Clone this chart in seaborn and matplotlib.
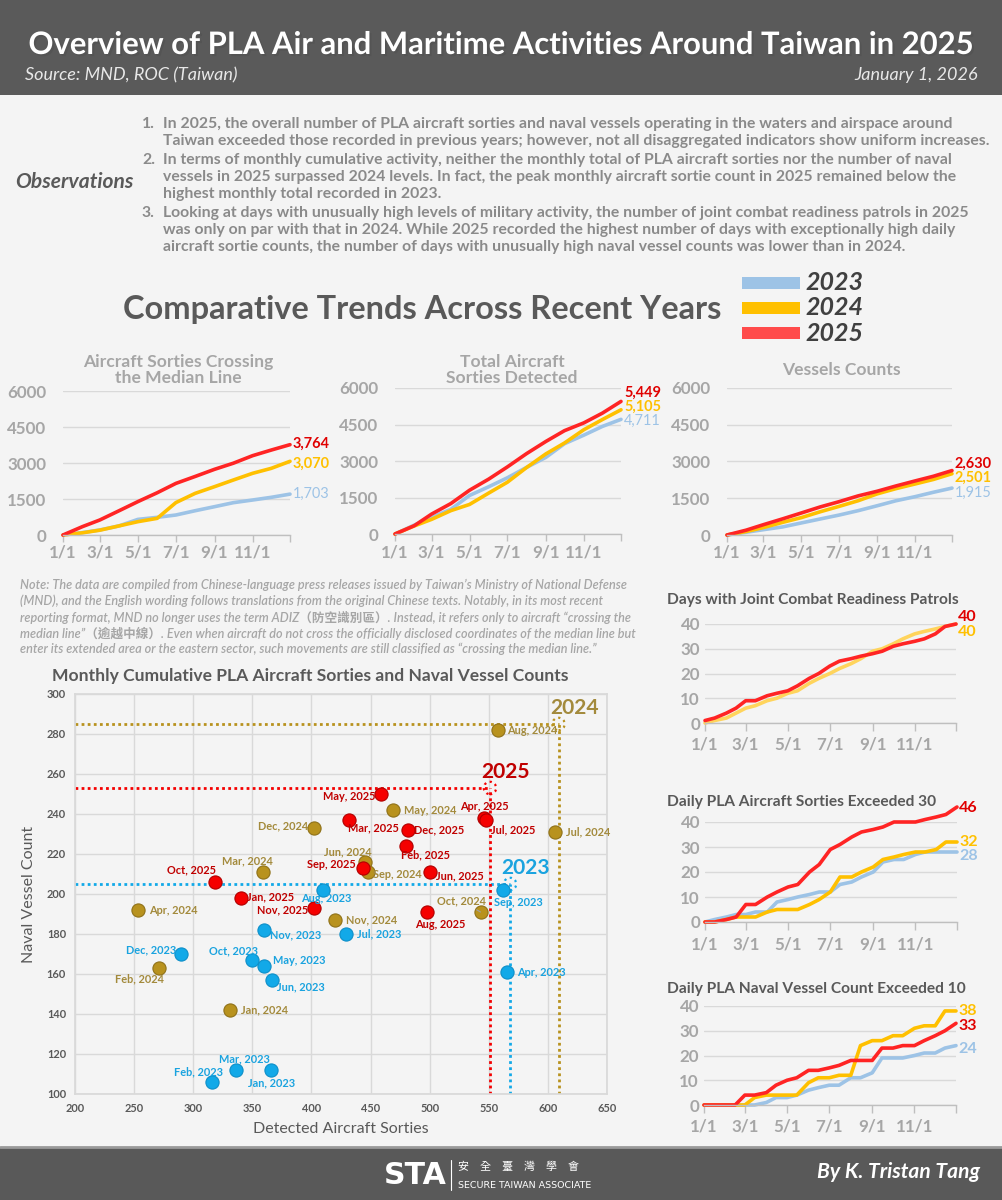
import numpy as np
import pandas as pd
import matplotlib
matplotlib.use('Agg')
import matplotlib.pyplot as plt
from matplotlib.patches import Rectangle
from matplotlib.lines import Line2D
import matplotlib.patheffects as pe
import seaborn as sns

sns.set_theme(style='white')
plt.rcParams['font.family'] = ['Lato', 'Noto Sans CJK TC', 'DejaVu Sans']

W, H = 1003, 1200
PT = 0.72  # points per pixel at 100 dpi

# ---------------- data ----------------
years = ['2023', '2024', '2025']
months = ['Jan', 'Feb', 'Mar', 'Apr', 'May', 'Jun',
          'Jul', 'Aug', 'Sep', 'Oct', 'Nov', 'Dec']
month_days = [0, 31, 59, 90, 120, 151, 181, 212, 243, 273, 304, 334, 364]
half_days = [0, 14, 31, 45, 59, 73, 90, 104, 120, 134, 151, 165, 181,
             195, 212, 226, 243, 257, 273, 287, 304, 318, 334, 348, 364]
tick_days = [0, 59, 120, 181, 243, 304, 364]
tick_labels = ['1/1', '3/1', '5/1', '7/1', '9/1', '11/1', '']

# cumulative sorties crossing the median line, read at each month start
median_2023 = [0, 100, 210, 380, 650, 736, 833, 1012, 1180, 1346, 1458, 1570, 1703]
median_2024 = [0, 90, 200, 380, 555, 694, 1350, 1736, 2014, 2290, 2570, 2778, 3070]
median_2025 = [0, 347, 625, 1012, 1390, 1760, 2150, 2440, 2737, 2990, 3305, 3540, 3764]

# monthly totals (scatter)
air_2023 = [366, 316, 336, 565, 360, 367, 429, 410, 562, 350, 360, 290]
vessel_2023 = [112, 106, 112, 161, 164, 157, 180, 202, 202, 167, 182, 170]
air_2024 = [331, 271, 359, 253, 469, 445, 606, 558, 448, 543, 420, 402]
vessel_2024 = [142, 163, 211, 192, 242, 216, 231, 282, 211, 191, 187, 233]
air_2025 = [340, 480, 432, 546, 459, 500, 548, 498, 444, 318, 402, 482]
vessel_2025 = [198, 224, 237, 238, 250, 211, 237, 191, 213, 206, 193, 232]

# cumulative day counts, read at the 1st and mid of each month
patrol_2024 = [0, 1, 2, 4, 6, 7, 9, 10, 12, 13, 16, 18, 20,
               22, 24, 26, 29, 30, 32, 34, 36, 37, 38, 39, 40]
patrol_2025 = [1, 2, 4, 6, 9, 9, 11, 12, 13, 15, 18, 20, 23,
               25, 26, 27, 28, 29, 31, 32, 33, 34, 36, 39, 40]
air30_2023 = [0, 1, 2, 3, 3, 4, 4, 8, 9, 10, 11, 12, 12,
              15, 16, 18, 20, 24, 25, 25, 27, 28, 28, 28, 28]
air30_2024 = [0, 0, 1, 2, 2, 2, 4, 5, 5, 5, 7, 9, 12,
              18, 18, 20, 22, 25, 26, 27, 28, 28, 29, 32, 32]
air30_2025 = [0, 0, 1, 2, 7, 7, 10, 12, 14, 15, 20, 23, 29,
              31, 34, 36, 37, 38, 40, 40, 40, 41, 42, 43, 46]
ves10_2023 = [0, 0, 0, 0, 0, 0, 1, 3, 3, 4, 6, 7, 8,
              8, 11, 11, 13, 19, 19, 19, 20, 21, 21, 23, 24]
ves10_2024 = [0, 0, 0, 0, 0, 3, 4, 4, 4, 4, 9, 11, 11,
              12, 12, 24, 26, 26, 28, 28, 31, 32, 32, 38, 38]
ves10_2025 = [0, 0, 0, 0, 4, 4, 5, 8, 10, 11, 14, 14, 15,
              16, 18, 18, 18, 23, 23, 24, 24, 26, 28, 30, 33]

# ---------------- styles ----------------
line_colors = {'2023': '#9DC3E6', '2024': '#FFC000', '2025': '#FF2424'}
label_colors = {'2023': '#9DC3E6', '2024': '#FFC000', '2025': '#E00000'}
dot_colors = {'2023': '#12A9E8', '2024': '#B8921E', '2025': '#F50000'}
dot_edges = {'2023': '#0E8FC8', '2024': '#8F7118', '2025': '#B00000'}
dot_text = {'2023': '#1AA3DF', '2024': '#A38A3C', '2025': '#C00000'}
GRID = '#D9D9D9'
GREY = '#A6A6A6'
DARK = '#595959'

fig = plt.figure(figsize=(W / 100, H / 100), dpi=100)
fig.patch.set_facecolor('#F4F4F4')


def fx(x):
    return x / W


def fy(y):
    return 1 - y / H


def rect_px(l, t, r, b):
    return [l / W, 1 - b / H, (r - l) / W, (b - t) / H]


def band(t, b, color):
    fig.add_artist(Rectangle((0, fy(b)), 1, (b - t) / H, transform=fig.transFigure,
                             facecolor=color, edgecolor='none', zorder=0))


# ---------------- header ----------------
band(0, 95, '#5A5A5A')
fig.text(fx(501), fy(45), 'Overview of PLA Air and Maritime Activities Around Taiwan in 2025',
         color='white', fontsize=31 * PT, fontweight='bold', ha='center', va='center',
         path_effects=[pe.SimplePatchShadow(offset=(1.5, -1.5), alpha=0.45), pe.Normal()])
fig.text(fx(25), fy(75), 'Source: MND, ROC (Taiwan)', color='#E8E8E8', style='italic',
         fontsize=18 * PT, va='center')
fig.text(fx(978), fy(75), 'January 1, 2026', color='#E8E8E8', style='italic',
         fontsize=18 * PT, va='center', ha='right')

# ---------------- observations ----------------
fig.text(fx(15), fy(182), 'Observations', color=DARK, fontsize=21 * PT,
         fontweight='bold', style='italic', va='center')
observations = [
    ['In 2025, the overall number of PLA aircraft sorties and naval vessels operating in the waters and airspace around',
     'Taiwan exceeded those recorded in previous years; however, not all disaggregated indicators show uniform increases.'],
    ['In terms of monthly cumulative activity, neither the monthly total of PLA aircraft sorties nor the number of naval',
     'vessels in 2025 surpassed 2024 levels. In fact, the peak monthly aircraft sortie count in 2025 remained below the',
     'highest monthly total recorded in 2023.'],
    ['Looking at days with unusually high levels of military activity, the number of joint combat readiness patrols in 2025',
     'was only on par with that in 2024. While 2025 recorded the highest number of days with exceptionally high daily',
     'aircraft sortie counts, the number of days with unusually high naval vessel counts was lower than in 2024.'],
]
y = 124
for i, para in enumerate(observations):
    fig.text(fx(142), fy(y), f'{i + 1}.', color='#8A8A8A', fontsize=15.8 * PT,
             fontweight='bold', va='center')
    for line in para:
        fig.text(fx(163), fy(y), line, color='#8A8A8A', fontsize=15.8 * PT,
                 fontweight='bold', va='center')
        y += 17
    y += 2

# ---------------- section title + legend ----------------
fig.text(fx(422), fy(310), 'Comparative Trends Across Recent Years', color=DARK,
         fontsize=32.5 * PT, fontweight='bold', ha='center', va='center')
legend_colors = {'2023': '#9DC3E6', '2024': '#FFC000', '2025': '#FF4B4B'}
for yr, yc in zip(years, [283, 308, 333]):
    fig.add_artist(Rectangle((fx(742), fy(yc + 6)), 58 / W, 12 / H, transform=fig.transFigure,
                             facecolor=legend_colors[yr], edgecolor='none'))
    fig.text(fx(806), fy(yc), yr, color='#404040', fontsize=25 * PT, fontweight='bold',
             style='italic', va='center')


# ---------------- cumulative line panels ----------------
def style_panel(ax, ylim, yticks, fs, ypad, xpad, tlen):
    ax.set_facecolor('none')
    ax.set_xlim(0, 364)
    ax.set_ylim(*ylim)
    ax.set_yticks(yticks)
    ax.set_xticks(tick_days)
    ax.set_xticklabels(tick_labels)
    ax.set_xlabel('')
    ax.set_ylabel('')
    ax.set_axisbelow(True)
    ax.grid(axis='y', color=GRID, lw=1)
    ax.grid(axis='x', visible=False)
    for s in ['top', 'right', 'left']:
        ax.spines[s].set_visible(False)
    ax.spines['bottom'].set_color('#BFBFBF')
    ax.spines['bottom'].set_linewidth(1)
    ax.tick_params(axis='x', bottom=True, direction='out', length=tlen, width=1,
                   color='#BFBFBF', pad=xpad, labelsize=fs, labelcolor=GREY)
    ax.tick_params(axis='y', left=False, length=0, pad=ypad, labelsize=fs, labelcolor=GREY)
    for lab in ax.get_xticklabels() + ax.get_yticklabels():
        lab.set_fontweight('bold')
    for ln in ax.lines:
        ln.set_clip_on(False)
        ln.set_solid_joinstyle('round')


def draw_series(ax, days, series, colors, lw):
    df = pd.concat([pd.DataFrame({'day': days, 'value': vals, 'year': yr})
                    for yr, vals in series.items()], ignore_index=True)
    sns.lineplot(data=df, x='day', y='value', hue='year', hue_order=list(series.keys()),
                 palette=colors, linewidth=lw, legend=False, errorbar=None, ax=ax)


def end_labels(ax, series, offsets, fs, dx, bold_blue=False, colors=label_colors):
    for yr, vals in series.items():
        w = 'bold' if (yr != '2023' or bold_blue) else 'normal'
        ax.annotate(f'{vals[-1]:,}', xy=(364, vals[-1]), xytext=(dx * PT, offsets[yr] * PT),
                    textcoords='offset points', color=colors[yr], fontsize=fs,
                    fontweight=w, ha='left', va='center', annotation_clip=False)


top_panels = [
    (rect_px(63, 391, 290, 535), 'Aircraft Sorties Crossing\nthe Median Line', 178,
     {'2023': median_2023, '2024': median_2024, '2025': median_2025},
     {'2023': 0, '2024': -2, '2025': 1}),
    (rect_px(395, 388, 621, 534), 'Total Aircraft\nSorties Detected', 512,
     {yr: np.concatenate([[0], np.cumsum(v)]) for yr, v in zip(years, [air_2023, air_2024, air_2025])},
     {'2023': -2, '2024': 3, '2025': 9}),
    (rect_px(727, 388, 952, 535), 'Vessels Counts', 841,
     {yr: np.concatenate([[0], np.cumsum(v)]) for yr, v in zip(years, [vessel_2023, vessel_2024, vessel_2025])},
     {'2023': -5, '2024': -4, '2025': 7}),
]
for rect, title, tx, series, offs in top_panels:
    ax = fig.add_axes(rect)
    draw_series(ax, month_days, series, line_colors, 2.6)
    style_panel(ax, (0, 6000), [0, 1500, 3000, 4500, 6000], 17 * PT, 17 * PT, 3 * PT, 7 * PT)
    end_labels(ax, series, offs, 14.5 * PT, 3)
    fig.text(fx(tx), fy(370), title, color=GREY, fontsize=17.5 * PT, fontweight='bold',
             ha='center', va='center', linespacing=0.95)

# ---------------- note ----------------
note_lines = [
    'Note: The data are compiled from Chinese-language press releases issued by Taiwan\u2019s Ministry of National Defense',
    '(MND), and the English wording follows translations from the original Chinese texts. Notably, in its most recent',
    'reporting format, MND no longer uses the term ADIZ\uff08防空識別區\uff09. Instead, it refers only to aircraft \u201ccrossing the',
    'median line\u201d\uff08逾越中線\uff09. Even when aircraft do not cross the officially disclosed coordinates of the median line but',
    'enter its extended area or the eastern sector, such movements are still classified as \u201ccrossing the median line.\u201d',
]
for i, line in enumerate(note_lines):
    fig.text(fx(20), fy(585 + 16 * i), line, color=GREY, fontsize=12.6 * PT,
             style='italic', fontweight='semibold', va='center')

# ---------------- scatter ----------------
fig.text(fx(52), fy(676), 'Monthly Cumulative PLA Aircraft Sorties and Naval Vessel Counts',
         color=DARK, fontsize=17.5 * PT, fontweight='bold', va='center')
sx = fig.add_axes(rect_px(75, 694, 607, 1094))
sx.set_facecolor('none')

label_place = {
    '2023': [('center', 0, -13), ('center', -14, 10), ('center', 9, 11), ('left', 11, 0),
             ('left', 9, 5), ('left', 5, -7), ('left', 11, 0), ('center', 3, -8),
             ('center', 15, -12), ('center', -19, 9), ('left', 6, -5), ('right', -5, 4)],
    '2024': [('left', 11, 0), ('center', -19, -11), ('center', -16, 11), ('left', 11, 0),
             ('left', 11, 0), ('center', -17, 10), ('left', 11, 0), ('left', 9, -1),
             ('left', 5, -3), ('center', -19, 11), ('left', 11, 0), ('right', -6, 2)],
    '2025': [('left', 6, 1), ('center', 19, -9), ('center', 24, -8), ('center', 0, 11),
             ('right', -6, -3), ('left', 6, -4), ('left', 5, -10), ('center', 13, -12),
             ('right', -8, 3), ('center', -23, 12), ('right', -6, -2), ('left', 6, 0)],
}
scatter_data = {'2023': (air_2023, vessel_2023), '2024': (air_2024, vessel_2024),
                '2025': (air_2025, vessel_2025)}

for yr in years:
    xs, ys = scatter_data[yr]
    cx, cy = max(xs) + 3, max(ys) + 3
    sx.plot([200, cx], [cy, cy], linestyle=(0, (1, 1.2)), color=dot_colors[yr], lw=2, zorder=1)
    sx.plot([cx, cx], [100, cy], linestyle=(0, (1, 1.2)), color=dot_colors[yr], lw=2, zorder=1)
    sx.scatter([cx], [cy], s=80, facecolor='none', edgecolor=dot_colors[yr],
               linestyle=':', linewidth=1.6, zorder=2)
    sx.annotate(yr, xy=(cx, cy), xytext=(16 * PT, 6 * PT), textcoords='offset points',
                color=dot_text[yr], fontsize=21 * PT, fontweight='bold', ha='center', va='bottom')

for yr in ['2024', '2023', '2025']:
    xs, ys = scatter_data[yr]
    sns.scatterplot(x=xs, y=ys, color=dot_colors[yr], edgecolor=dot_edges[yr], linewidth=0.8,
                    s=90, zorder=3, ax=sx, legend=False)
    for (x, yv), m, (ha, dx, dy) in zip(zip(xs, ys), months, label_place[yr]):
        arrow = dict(arrowstyle='-', color='#A0A0A0', lw=0.8, shrinkA=0, shrinkB=5) \
            if (yr == '2024' and m == 'Oct') else None
        sx.annotate(f'{m}, {yr}', xy=(x, yv), xytext=(dx * PT, dy * PT),
                    textcoords='offset points', ha=ha, va='center', color=dot_text[yr],
                    fontsize=11 * PT, fontweight='bold', arrowprops=arrow, zorder=4)

sx.set_xlim(200, 650)
sx.set_ylim(100, 300)
sx.set_xticks(range(200, 651, 50))
sx.set_yticks(range(100, 301, 20))
sx.grid(True, color=GRID, lw=1)
sx.set_axisbelow(True)
for s in sx.spines.values():
    s.set_color(GRID)
sx.tick_params(length=0, labelsize=11 * PT, labelcolor=DARK, pad=9 * PT)
for lab in sx.get_xticklabels() + sx.get_yticklabels():
    lab.set_fontweight('bold')
sx.set_xlabel('Detected Aircraft Sorties', color=DARK, fontsize=16 * PT, labelpad=6)
sx.set_ylabel('Naval Vessel Count', color=DARK, fontsize=16 * PT, labelpad=8)

# ---------------- right-hand day-count panels ----------------
patrol_colors = {'2024': '#FFD45C', '2025': '#FF2424'}
right_panels = [
    (rect_px(705, 624, 956, 723), 600, 'Days with Joint Combat Readiness Patrols',
     {'2024': patrol_2024, '2025': patrol_2025}, patrol_colors, {'2024': -8, '2025': 7}),
    (rect_px(705, 822, 957, 922), 802, 'Daily PLA Aircraft Sorties Exceeded 30',
     {'2023': air30_2023, '2024': air30_2024, '2025': air30_2025},
     line_colors, {'2023': -4, '2024': 0, '2025': -1}),
    (rect_px(704, 1006, 956, 1105), 989, 'Daily PLA Naval Vessel Count Exceeded 10',
     {'2023': ves10_2023, '2024': ves10_2024, '2025': ves10_2025},
     line_colors, {'2023': -3, '2024': 0, '2025': -3}),
]
for rect, ty, title, series, colors, offs in right_panels:
    ax = fig.add_axes(rect)
    draw_series(ax, half_days, series, colors, 2.6)
    style_panel(ax, (0, 40), [0, 10, 20, 30, 40], 17 * PT, 5 * PT, 6 * PT, 8 * PT)
    end_labels(ax, series, offs, 16 * PT, 2, bold_blue=True)
    fig.text(fx(667), fy(ty), title, color=DARK, fontsize=15.5 * PT, fontweight='bold',
             va='center')

# ---------------- footer ----------------
band(1148, 1200, '#595959')
fig.add_artist(Line2D([0, 1], [fy(1147), fy(1147)], transform=fig.transFigure,
                      color='#9A9A9A', lw=2))
fig.text(fx(447), fy(1175), 'STA', color='white', fontsize=30 * PT, fontweight='bold',
         ha='right', va='center', family=['DejaVu Sans'])
fig.add_artist(Line2D([fx(451), fx(451)], [fy(1160), fy(1190)], transform=fig.transFigure,
                      color='white', lw=0.8))
fig.text(fx(458), fy(1167), '安　全　臺　灣　學　會', color='white', fontsize=11 * PT,
         va='center', family=['Noto Sans CJK TC'])
fig.text(fx(458), fy(1185), 'SECURE TAIWAN ASSOCIATE', color='white', fontsize=9.5 * PT,
         va='center', family=['DejaVu Sans'])
fig.text(fx(980), fy(1172), 'By K. Tristan Tang', color='white', fontsize=21 * PT,
         fontweight='bold', style='italic', ha='right', va='center')

fig.savefig('out.png', dpi=100, facecolor=fig.get_facecolor())
